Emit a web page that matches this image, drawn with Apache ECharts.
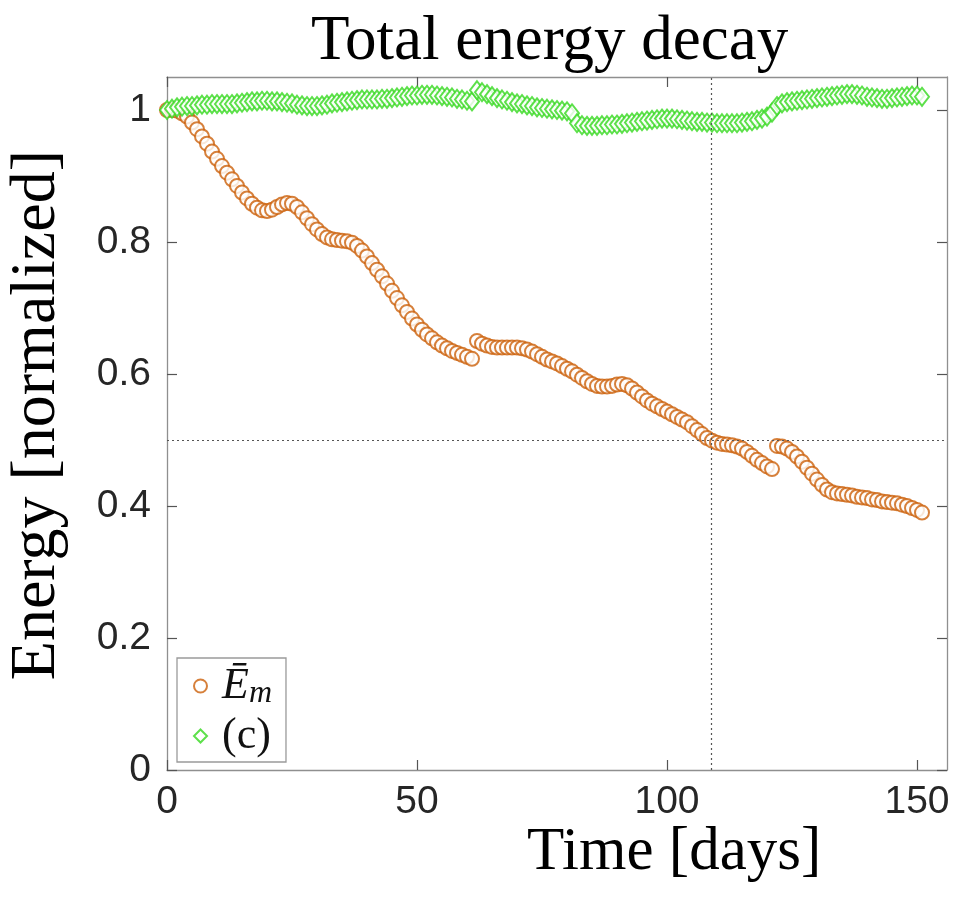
<!DOCTYPE html>
<html>
<head>
<meta charset="utf-8">
<script src="https://cdn.jsdelivr.net/npm/echarts@6/dist/echarts.min.js"></script>
<style>
  html, body { margin: 0; padding: 0; background: #fff; }
  #main { width: 964px; height: 901px; }
</style>
</head>
<body>
<div id="main"></div>
<script>
// mean energy E_m, one value per day (day 0 .. 151)
const energyMean = [
  1.000, 1.000, 0.999, 0.995, 0.990, 0.981, 0.971, 0.960, 0.949, 0.937,
  0.926, 0.915, 0.905, 0.895, 0.885, 0.875, 0.866, 0.858, 0.852, 0.848,
  0.847, 0.849, 0.853, 0.857, 0.859, 0.858, 0.853, 0.845, 0.836, 0.827,
  0.819, 0.812, 0.807, 0.804, 0.803, 0.802, 0.801, 0.799, 0.794, 0.787,
  0.778, 0.768, 0.758, 0.748, 0.737, 0.726, 0.715, 0.704, 0.694, 0.684,
  0.675, 0.667, 0.660, 0.654, 0.648, 0.643, 0.639, 0.635, 0.632, 0.629,
  0.626, 0.623, 0.650, 0.646, 0.643, 0.641, 0.640, 0.640, 0.640, 0.640,
  0.640, 0.639, 0.637, 0.634, 0.630, 0.626, 0.622, 0.619, 0.616, 0.612,
  0.608, 0.604, 0.599, 0.594, 0.589, 0.585, 0.582, 0.581, 0.581, 0.582,
  0.584, 0.585, 0.583, 0.578, 0.572, 0.566, 0.560, 0.555, 0.551, 0.547,
  0.543, 0.539, 0.535, 0.531, 0.527, 0.521, 0.515, 0.509, 0.503, 0.499,
  0.496, 0.494, 0.493, 0.492, 0.490, 0.487, 0.482, 0.476, 0.470, 0.465,
  0.460, 0.456, 0.491, 0.490, 0.487, 0.482, 0.475, 0.467, 0.458, 0.449,
  0.440, 0.432, 0.425, 0.421, 0.419, 0.418, 0.417, 0.416, 0.414, 0.413,
  0.412, 0.410, 0.409, 0.407, 0.406, 0.405, 0.404, 0.402, 0.400, 0.397,
  0.394, 0.390
];
// case (c), one value per day (day 0 .. 151)
const energyC = [
  1.000, 1.002, 1.004, 1.005, 1.006, 1.006, 1.007, 1.008, 1.008, 1.009,
  1.009, 1.009, 1.009, 1.009, 1.010, 1.011, 1.012, 1.013, 1.013, 1.014,
  1.014, 1.013, 1.013, 1.012, 1.011, 1.010, 1.008, 1.007, 1.006, 1.006,
  1.006, 1.007, 1.008, 1.010, 1.011, 1.012, 1.013, 1.014, 1.015, 1.016,
  1.016, 1.016, 1.016, 1.017, 1.017, 1.018, 1.019, 1.020, 1.021, 1.022,
  1.022, 1.023, 1.023, 1.023, 1.022, 1.021, 1.020, 1.019, 1.017, 1.016,
  1.014, 1.013, 1.030, 1.027, 1.024, 1.021, 1.018, 1.016, 1.014, 1.012,
  1.010, 1.009, 1.007, 1.006, 1.004, 1.003, 1.002, 1.001, 1.000, 0.999,
  0.998, 0.995, 0.980, 0.977, 0.976, 0.976, 0.976, 0.977, 0.977, 0.978,
  0.978, 0.979, 0.980, 0.981, 0.982, 0.983, 0.984, 0.985, 0.986, 0.987,
  0.987, 0.987, 0.986, 0.985, 0.984, 0.983, 0.982, 0.982, 0.981, 0.981,
  0.980, 0.980, 0.980, 0.980, 0.980, 0.981, 0.982, 0.983, 0.985, 0.987,
  0.990, 0.996, 1.006, 1.010, 1.012, 1.013, 1.014, 1.015, 1.016, 1.017,
  1.018, 1.019, 1.020, 1.021, 1.022, 1.023, 1.024, 1.024, 1.023, 1.022,
  1.020, 1.019, 1.018, 1.017, 1.017, 1.018, 1.019, 1.020, 1.021, 1.022,
  1.022, 1.020
];
const days = energyMean.map((v, i) => i);
const xTicks = [0, 50, 100, 150];
const yTicks = [0, 0.2, 0.4, 0.6, 0.8, 1];
const halfLife = 108.8; // day where E_m crosses 0.5

const tickFont = { fontFamily: 'Liberation Sans', fontSize: 39, color: '#262626' };
const boxLine = { show: true, onZero: false, lineStyle: { color: '#8f8f8f', width: 1.3 } };
const tickStyle = { color: '#555', width: 1.2 };

const chart = echarts.init(document.getElementById('main'));
chart.setOption({
  backgroundColor: '#ffffff',
  animation: false,
  grid: { left: 167, right: 17, top: 77, bottom: 131 },
  xAxis: [
    {
      type: 'value', min: 0, max: 156, position: 'bottom',
      axisLine: boxLine,
      axisTick: { inside: true, length: 10, customValues: xTicks, lineStyle: tickStyle },
      axisLabel: Object.assign({ margin: 13, customValues: xTicks }, tickFont),
      splitLine: { show: false }
    },
    {
      type: 'value', min: 0, max: 156, position: 'top',
      axisLine: boxLine,
      axisTick: { inside: true, length: 10, customValues: xTicks, lineStyle: tickStyle },
      axisLabel: { show: false },
      splitLine: { show: false }
    }
  ],
  yAxis: [
    {
      type: 'value', min: 0, max: 1.05, position: 'left',
      axisLine: boxLine,
      axisTick: { inside: true, length: 10, customValues: yTicks, lineStyle: tickStyle },
      axisLabel: Object.assign({ margin: 16, customValues: yTicks }, tickFont),
      splitLine: { show: false }
    },
    {
      type: 'value', min: 0, max: 1.05, position: 'right',
      axisLine: boxLine,
      axisTick: { inside: true, length: 10, customValues: yTicks, lineStyle: tickStyle },
      axisLabel: { show: false },
      splitLine: { show: false }
    }
  ],
  legend: {
    orient: 'vertical',
    left: 177, top: 658,
    padding: [4, 14, 4, 16],
    itemGap: 4,
    itemWidth: 13, itemHeight: 13,
    backgroundColor: '#ffffff',
    borderColor: '#9a9a9a', borderWidth: 1.3,
    data: ['Em', 'c'],
    formatter: name => name === 'Em' ? '{e|Ē}{m|m}' : '{c|(c)}',
    textStyle: {
      rich: {
        e: { fontFamily: 'Liberation Serif', fontStyle: 'italic', fontSize: 44, color: '#111', lineHeight: 46, padding: [0, 0, 0, 10] },
        m: { fontFamily: 'Liberation Serif', fontStyle: 'italic', fontSize: 32, color: '#111', padding: [16, 0, 0, 0], lineHeight: 46 },
        c: { fontFamily: 'Liberation Serif', fontSize: 44, color: '#111', lineHeight: 46, padding: [0, 0, 0, 10] }
      }
    }
  },
  graphic: [
    { type: 'text', left: 311, top: 11, style: { text: 'Total energy decay', font: '63px "Liberation Serif"', fill: '#000' } },
    { type: 'text', left: 527, top: 822, style: { text: 'Time [days]', font: '61px "Liberation Serif"', fill: '#000' } },
    { type: 'text', left: 5, top: 150, rotation: Math.PI / 2, style: { text: 'Energy [normalized]', font: '64px "Liberation Serif"', fill: '#000' } }
  ],
  series: [
    {
      name: 'Em',
      type: 'scatter',
      symbol: 'emptyCircle',
      symbolSize: 14,
      itemStyle: { color: '#cc600a', borderWidth: 2.7 },
      data: days.map(d => [d, energyMean[d]]),
      markLine: {
        silent: true,
        symbol: 'none',
        label: { show: false },
        lineStyle: { color: '#555', type: [2, 3], width: 1.2 },
        data: [{ yAxis: 0.5 }, { xAxis: halfLife }]
      }
    },
    {
      name: 'c',
      type: 'scatter',
      symbol: 'emptyDiamond',
      symbolSize: [14, 18],
      itemStyle: { color: '#34d81e', borderWidth: 2.7 },
      data: days.map(d => [d, energyC[d]])
    }
  ]
});
</script>
</body>
</html>
